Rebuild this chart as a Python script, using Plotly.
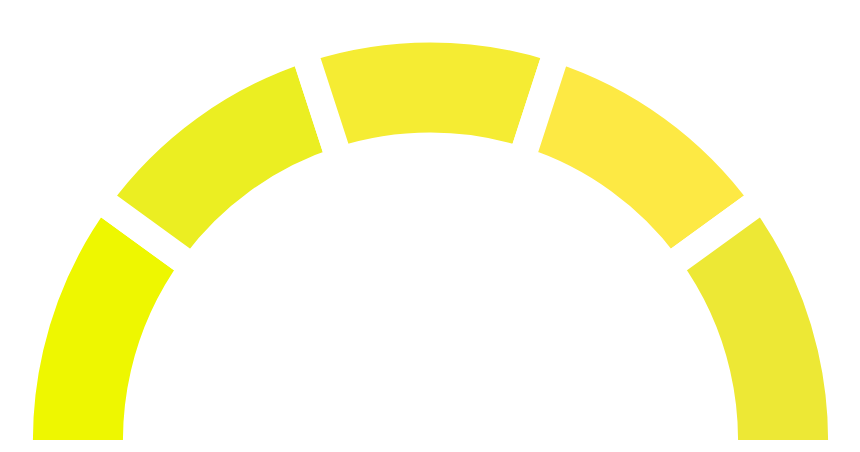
import plotly.graph_objects as go

# five equal bands of the gauge, left to right
bands = ["A", "B", "C", "D", "E"]
values = [1, 1, 1, 1, 1]
colors = ["#EEF700", "#EBEE22", "#F5EC33", "#FDE944", "#EDE835"]

inner = 307.5
outer = 397.5
gap = 27

# polar radius in px; radial units are px too.
# the page body has an 8px margin, so the centre sits at (422.5, 432) in the figure
R = 420
cx, cy = 422.5, 432
W, H = 860, 452

total = sum(values)
starts = []
ends = []
acc = 0
for v in values:
    starts.append(acc / total * 180)
    acc += v
    ends.append(acc / total * 180)
# push the two end bands below the horizon; the sector clip cuts them flat
starts[0] -= 10
ends[-1] += 10

theta = [(s + e) / 2 for s, e in zip(starts, ends)]
width = [e - s for s, e in zip(starts, ends)]

fig = go.Figure()
fig.add_trace(go.Barpolar(
    r=[outer - inner + gap] * len(bands),
    base=[inner - gap / 2] * len(bands),
    theta=theta,
    width=width,
    text=bands,
    marker=dict(color=colors, line=dict(color="white", width=gap)),
    hoverinfo="text",
))

fig.update_layout(
    width=W,
    height=H,
    margin=dict(l=0, r=0, t=0, b=0),
    paper_bgcolor="white",
    showlegend=False,
    polar=dict(
        domain=dict(x=[(cx - R) / W, (cx + R) / W],
                    y=[(H - cy) / H, (H - cy + R) / H]),
        sector=[0, 180],
        bgcolor="white",
        radialaxis=dict(range=[0, R], visible=False, showgrid=False),
        angularaxis=dict(visible=False, showgrid=False, direction="clockwise",
                         rotation=180),
    ),
)

fig.write_html("out.html")
